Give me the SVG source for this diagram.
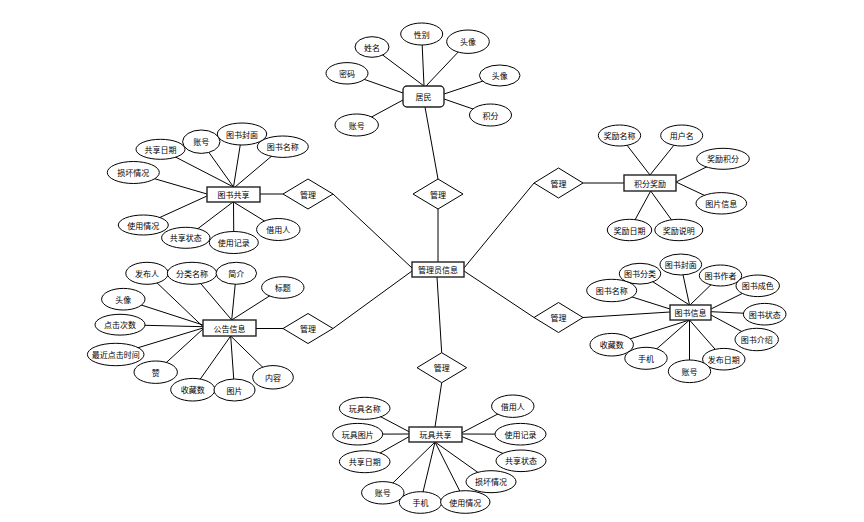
<svg xmlns="http://www.w3.org/2000/svg" width="864" height="522" viewBox="0 0 864 522">
<style>
.c line{stroke:#000;stroke-width:1}
.e{fill:#fff;stroke:#000;stroke-width:1}
.r{fill:#fff;stroke:#222;stroke-width:1.4}
.d{fill:#fff;stroke:#000;stroke-width:1}
text{font-family:"Noto Sans CJK SC","Liberation Sans",sans-serif;font-size:8px;fill:#000;text-anchor:middle;dominant-baseline:central}
</style>
<rect width="864" height="522" fill="#fff"/>
<g id="connectors" class="c">
<line x1="372" y1="47" x2="424" y2="86"/>
<line x1="421.7" y1="34" x2="424" y2="86"/>
<line x1="468" y1="41.7" x2="426" y2="86"/>
<line x1="347" y1="73.3" x2="403" y2="93"/>
<line x1="499.7" y1="75.5" x2="444" y2="94"/>
<line x1="356.7" y1="125" x2="403" y2="100"/>
<line x1="490.5" y1="115" x2="444" y2="99"/>
<line x1="425" y1="107" x2="438" y2="179"/>
<line x1="438" y1="209" x2="438" y2="262"/>
<line x1="333" y1="194" x2="412" y2="268"/>
<line x1="333" y1="328.5" x2="412" y2="271"/>
<line x1="534" y1="183" x2="464" y2="268"/>
<line x1="534" y1="317.5" x2="464" y2="271"/>
<line x1="437" y1="277" x2="441.7" y2="352.7"/>
<line x1="283" y1="194" x2="260" y2="194"/>
<line x1="283" y1="328.5" x2="256" y2="328.5"/>
<line x1="583" y1="183" x2="624" y2="183"/>
<line x1="583" y1="317.5" x2="670" y2="312"/>
<line x1="441.7" y1="382.7" x2="435" y2="427"/>
<line x1="160.5" y1="149.3" x2="233.5" y2="187"/>
<line x1="201.3" y1="141.7" x2="233.5" y2="187"/>
<line x1="242" y1="134" x2="233.5" y2="187"/>
<line x1="282.8" y1="146.7" x2="235" y2="187"/>
<line x1="133.3" y1="172.5" x2="207" y2="194"/>
<line x1="143.3" y1="225" x2="207" y2="196"/>
<line x1="185.8" y1="237.8" x2="233" y2="202"/>
<line x1="233.8" y1="242.5" x2="233.5" y2="202"/>
<line x1="278.3" y1="229.5" x2="233.5" y2="202"/>
<line x1="619.5" y1="135.5" x2="650" y2="175"/>
<line x1="681.7" y1="135.5" x2="650" y2="175"/>
<line x1="723" y1="158.8" x2="676" y2="182"/>
<line x1="721.3" y1="203.3" x2="676" y2="182"/>
<line x1="629.5" y1="230" x2="650.7" y2="191"/>
<line x1="678.8" y1="230" x2="650.7" y2="191"/>
<line x1="147" y1="273.3" x2="203" y2="326.7"/>
<line x1="192" y1="273.3" x2="231.7" y2="320"/>
<line x1="236.3" y1="273.3" x2="231.7" y2="320"/>
<line x1="282.8" y1="287.5" x2="231.7" y2="320"/>
<line x1="123.3" y1="299.2" x2="203" y2="325"/>
<line x1="120" y1="324.7" x2="203" y2="326.7"/>
<line x1="115.7" y1="354.5" x2="203" y2="328"/>
<line x1="155.7" y1="372.2" x2="203" y2="329"/>
<line x1="192.8" y1="389.7" x2="230.7" y2="336"/>
<line x1="234.5" y1="390" x2="230.7" y2="336"/>
<line x1="273" y1="377.3" x2="230.7" y2="336"/>
<line x1="640" y1="273.7" x2="689.5" y2="305"/>
<line x1="680.8" y1="264.5" x2="689.5" y2="305"/>
<line x1="720.5" y1="275.5" x2="690" y2="305"/>
<line x1="611.7" y1="290.5" x2="670" y2="309"/>
<line x1="757.7" y1="285.8" x2="711" y2="309"/>
<line x1="764.7" y1="314.2" x2="711" y2="311.7"/>
<line x1="756.7" y1="339.5" x2="711" y2="315"/>
<line x1="723.8" y1="359.2" x2="689.5" y2="320"/>
<line x1="689.5" y1="371.3" x2="689.5" y2="320"/>
<line x1="646" y1="358.3" x2="689.5" y2="320"/>
<line x1="611.7" y1="344.7" x2="689.5" y2="320"/>
<line x1="364.7" y1="408.3" x2="409" y2="431.7"/>
<line x1="357.7" y1="434.2" x2="409" y2="434"/>
<line x1="364.7" y1="461.7" x2="409" y2="436.7"/>
<line x1="512.8" y1="406.2" x2="462" y2="432.7"/>
<line x1="520.5" y1="434.2" x2="462" y2="434"/>
<line x1="521" y1="460.8" x2="462" y2="436.7"/>
<line x1="382.8" y1="492.8" x2="435" y2="442"/>
<line x1="420.5" y1="502.5" x2="435" y2="442"/>
<line x1="465.3" y1="502" x2="435" y2="442"/>
<line x1="491" y1="481.7" x2="435" y2="442"/>
</g>
<g id="admin"><rect class="r" x="412" y="262" width="52" height="15"/><text x="438" y="269.5">管理员信息</text></g>
<g id="d-top"><polygon class="d" points="413,194 438,179 463,194 438,209"/><text x="438" y="194">管理</text></g>
<g id="d-lt"><polygon class="d" points="283,194 308,179 333,194 308,209"/><text x="308" y="194">管理</text></g>
<g id="d-rt"><polygon class="d" points="534,183 558.5,168 583,183 558.5,198"/><text x="558.5" y="183">管理</text></g>
<g id="d-lb"><polygon class="d" points="283,328.5 308,313.5 333,328.5 308,343.5"/><text x="308" y="328.5">管理</text></g>
<g id="d-rb"><polygon class="d" points="534,317.5 558.5,302.5 583,317.5 558.5,332.5"/><text x="558.5" y="317.5">管理</text></g>
<g id="d-b"><polygon class="d" points="417,367.7 441.7,352.7 466.7,367.7 441.7,382.7"/><text x="441.7" y="367.7">管理</text></g>

<g id="resident"><rect class="r" x="403" y="86" width="41" height="21" rx="4"/><text x="423.5" y="96.5">居民</text></g>
<g id="r-name"><ellipse class="e" cx="372" cy="47" rx="17" ry="10.3"/><text x="372" y="47">姓名</text></g>
<g id="r-sex"><ellipse class="e" cx="421.7" cy="34" rx="21" ry="11"/><text x="421.7" y="34">性别</text></g>
<g id="r-avatar1"><ellipse class="e" cx="468" cy="41.7" rx="21.3" ry="11.7"/><text x="468" y="41.7">头像</text></g>
<g id="r-pwd"><ellipse class="e" cx="347" cy="73.3" rx="21" ry="10.7"/><text x="347" y="73.3">密码</text></g>
<g id="r-avatar2"><ellipse class="e" cx="499.7" cy="75.5" rx="20.3" ry="10.5"/><text x="499.7" y="75.5">头像</text></g>
<g id="r-acct"><ellipse class="e" cx="356.7" cy="125" rx="21.7" ry="11"/><text x="356.7" y="125">账号</text></g>
<g id="r-points"><ellipse class="e" cx="490.5" cy="115" rx="21" ry="11"/><text x="490.5" y="115">积分</text></g>

<g id="bookshare"><rect class="r" x="207" y="187" width="53" height="15"/><text x="233.5" y="194.5">图书共享</text></g>
<g id="bs-date"><ellipse class="e" cx="160.5" cy="149.3" rx="24.5" ry="10"/><text x="160.5" y="149.3">共享日期</text></g>
<g id="bs-acct"><ellipse class="e" cx="201.3" cy="141.7" rx="18.7" ry="11.7"/><text x="201.3" y="141.7">账号</text></g>
<g id="bs-name"><ellipse class="e" cx="282.8" cy="146.7" rx="25.5" ry="10.7"/><text x="282.8" y="146.7">图书名称</text></g>
<g id="bs-cover"><ellipse class="e" cx="242" cy="134" rx="24.7" ry="11"/><text x="242" y="134">图书封面</text></g>
<g id="bs-damage"><ellipse class="e" cx="133.3" cy="172.5" rx="26" ry="11"/><text x="133.3" y="172.5">损坏情况</text></g>
<g id="bs-usage"><ellipse class="e" cx="143.3" cy="225" rx="25" ry="10"/><text x="143.3" y="225">使用情况</text></g>
<g id="bs-status"><ellipse class="e" cx="185.8" cy="237.8" rx="24.2" ry="10.5"/><text x="185.8" y="237.8">共享状态</text></g>
<g id="bs-record"><ellipse class="e" cx="233.8" cy="242.5" rx="24.5" ry="11"/><text x="233.8" y="242.5">使用记录</text></g>
<g id="bs-borrower"><ellipse class="e" cx="278.3" cy="229.5" rx="21.7" ry="11"/><text x="278.3" y="229.5">借用人</text></g>

<g id="reward"><rect class="r" x="624" y="175" width="52" height="16"/><text x="650" y="183">积分奖励</text></g>
<g id="rw-name"><ellipse class="e" cx="619.5" cy="135.5" rx="21.2" ry="10.5"/><text x="619.5" y="135.5">奖励名称</text></g>
<g id="rw-user"><ellipse class="e" cx="681.7" cy="135.5" rx="21" ry="10.5"/><text x="681.7" y="135.5">用户名</text></g>
<g id="rw-points"><ellipse class="e" cx="723" cy="158.8" rx="26.3" ry="10.5"/><text x="723" y="158.8">奖励积分</text></g>
<g id="rw-img"><ellipse class="e" cx="721.3" cy="203.3" rx="25.3" ry="10.7"/><text x="721.3" y="203.3">图片信息</text></g>
<g id="rw-date"><ellipse class="e" cx="629.5" cy="230" rx="22.2" ry="10.7"/><text x="629.5" y="230">奖励日期</text></g>
<g id="rw-desc"><ellipse class="e" cx="678.8" cy="230" rx="24" ry="10.7"/><text x="678.8" y="230">奖励说明</text></g>

<g id="notice"><rect class="r" x="203" y="320" width="53" height="16"/><text x="229.5" y="328">公告信息</text></g>
<g id="n-publisher"><ellipse class="e" cx="147" cy="273.3" rx="21.2" ry="11"/><text x="147" y="273.3">发布人</text></g>
<g id="n-category"><ellipse class="e" cx="192" cy="273.3" rx="24.7" ry="11"/><text x="192" y="273.3">分类名称</text></g>
<g id="n-intro"><ellipse class="e" cx="236.3" cy="273.3" rx="20.3" ry="11"/><text x="236.3" y="273.3">简介</text></g>
<g id="n-title"><ellipse class="e" cx="282.8" cy="287.5" rx="21.2" ry="10.8"/><text x="282.8" y="287.5">标题</text></g>
<g id="n-avatar"><ellipse class="e" cx="123.3" cy="299.2" rx="21.7" ry="10.8"/><text x="123.3" y="299.2">头像</text></g>
<g id="n-clicks"><ellipse class="e" cx="120" cy="324.7" rx="25" ry="10.4"/><text x="120" y="324.7">点击次数</text></g>
<g id="n-lastclick"><ellipse class="e" cx="115.7" cy="354.5" rx="28.3" ry="11.2"/><text x="115.7" y="354.5">最近点击时间</text></g>
<g id="n-like"><ellipse class="e" cx="155.7" cy="372.2" rx="21.7" ry="11.2"/><text x="155.7" y="372.2">赞</text></g>
<g id="n-fav"><ellipse class="e" cx="192.8" cy="389.7" rx="22.1" ry="11.3"/><text x="192.8" y="389.7">收藏数</text></g>
<g id="n-img"><ellipse class="e" cx="234.5" cy="390" rx="20.5" ry="11"/><text x="234.5" y="390">图片</text></g>
<g id="n-content"><ellipse class="e" cx="273" cy="377.3" rx="20.3" ry="11.7"/><text x="273" y="377.3">内容</text></g>

<g id="bookinfo"><rect class="r" x="670" y="305" width="41" height="15"/><text x="690.5" y="312.5">图书信息</text></g>
<g id="bi-name"><ellipse class="e" cx="611.7" cy="290.5" rx="25" ry="11.2"/><text x="611.7" y="290.5">图书名称</text></g>
<g id="bi-category"><ellipse class="e" cx="640" cy="273.7" rx="20.7" ry="10.4"/><text x="640" y="273.7">图书分类</text></g>
<g id="bi-author"><ellipse class="e" cx="720.5" cy="275.5" rx="21.2" ry="10.5"/><text x="720.5" y="275.5">图书作者</text></g>
<g id="bi-cover"><ellipse class="e" cx="680.8" cy="264.5" rx="20.8" ry="10.5"/><text x="680.8" y="264.5">图书封面</text></g>
<g id="bi-quality"><ellipse class="e" cx="757.7" cy="285.8" rx="21.7" ry="10.8"/><text x="757.7" y="285.8">图书成色</text></g>
<g id="bi-status"><ellipse class="e" cx="764.7" cy="314.2" rx="21.3" ry="10.8"/><text x="764.7" y="314.2">图书状态</text></g>
<g id="bi-intro"><ellipse class="e" cx="756.7" cy="339.5" rx="21.7" ry="11.2"/><text x="756.7" y="339.5">图书介绍</text></g>
<g id="bi-fav"><ellipse class="e" cx="611.7" cy="344.7" rx="21.7" ry="11.3"/><text x="611.7" y="344.7">收藏数</text></g>
<g id="bi-phone"><ellipse class="e" cx="646" cy="358.3" rx="21.2" ry="11"/><text x="646" y="358.3">手机</text></g>
<g id="bi-date"><ellipse class="e" cx="723.8" cy="359.2" rx="21.2" ry="10.8"/><text x="723.8" y="359.2">发布日期</text></g>
<g id="bi-acct"><ellipse class="e" cx="689.5" cy="371.3" rx="21.2" ry="11.3"/><text x="689.5" y="371.3">账号</text></g>

<g id="toyshare"><rect class="r" x="409" y="427" width="53" height="15"/><text x="435.5" y="434.5">玩具共享</text></g>
<g id="ts-name"><ellipse class="e" cx="364.7" cy="408.3" rx="25.3" ry="11"/><text x="364.7" y="408.3">玩具名称</text></g>
<g id="ts-img"><ellipse class="e" cx="357.7" cy="434.2" rx="25" ry="10.8"/><text x="357.7" y="434.2">玩具图片</text></g>
<g id="ts-date"><ellipse class="e" cx="364.7" cy="461.7" rx="25.3" ry="11"/><text x="364.7" y="461.7">共享日期</text></g>
<g id="ts-borrower"><ellipse class="e" cx="512.8" cy="406.2" rx="21.2" ry="11.2"/><text x="512.8" y="406.2">借用人</text></g>
<g id="ts-record"><ellipse class="e" cx="520.5" cy="434.2" rx="25.5" ry="10.8"/><text x="520.5" y="434.2">使用记录</text></g>
<g id="ts-status"><ellipse class="e" cx="521" cy="460.8" rx="25" ry="10.8"/><text x="521" y="460.8">共享状态</text></g>
<g id="ts-damage"><ellipse class="e" cx="491" cy="481.7" rx="25" ry="11"/><text x="491" y="481.7">损坏情况</text></g>
<g id="ts-acct"><ellipse class="e" cx="382.8" cy="492.8" rx="21.2" ry="11.2"/><text x="382.8" y="492.8">账号</text></g>
<g id="ts-phone"><ellipse class="e" cx="420.5" cy="502.5" rx="21.2" ry="10.8"/><text x="420.5" y="502.5">手机</text></g>
<g id="ts-usage"><ellipse class="e" cx="465.3" cy="502" rx="24.7" ry="11.3"/><text x="465.3" y="502">使用情况</text></g>
</svg>
